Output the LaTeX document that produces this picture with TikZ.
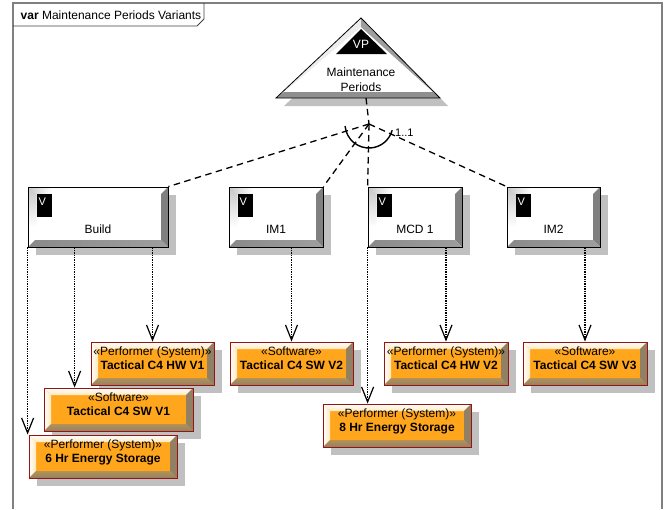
\documentclass[tikz,border=0pt]{standalone}
\usepackage{fontspec}
\setmainfont{Liberation Sans}
\usepackage{tikz}
\usetikzlibrary{arrows.meta,shadows}

\definecolor{elemorange}{RGB}{255,166,28}
\definecolor{elemcream}{RGB}{255,232,190}
\definecolor{elembrown}{RGB}{145,128,100}
\definecolor{elembrownlt}{RGB}{182,146,86}
\definecolor{elemrim}{RGB}{150,20,20}
\definecolor{shadowgray}{RGB}{192,192,192}
\definecolor{framegray}{RGB}{128,128,128}

% corners of the box being bevelled
\newcommand{\bevelcorners}{%
	\coordinate (pnw) at (path picture bounding box.north west);
	\coordinate (pne) at (path picture bounding box.north east);
	\coordinate (psw) at (path picture bounding box.south west);
	\coordinate (pse) at (path picture bounding box.south east);}

\begin{document}
\begin{tikzpicture}[
			x=1pt, y=-1pt,
			font=\fontsize{12}{14.5}\selectfont,
			every node/.style={align=center},
			choice/.style={draw, line width=1.3pt, dash pattern=on 6.5pt off 4.5pt},
			dep/.style={draw, line width=1.3pt, dash pattern=on 1.3pt off 1.1pt,
				-{Straight Barb[length=15pt,width=12pt,line width=1.2pt]}},
			varbox/.style={rectangle, draw=black, line width=0.8pt, fill=white,
				minimum height=60pt, inner sep=0pt, text height=32pt, text depth=0pt,
				drop shadow={shadow xshift=8pt, shadow yshift=-8pt, fill=shadowgray, opacity=1},
				path picture={\bevelcorners
					\shade[left color=black!22, right color=white] (pnw) -- ([xshift=24pt]pnw) -- ([shift={(24pt,-7.4pt)}]pnw) -- ([shift={(8.7pt,-7.4pt)}]pnw) -- cycle;
					\shade[top color=black!22, bottom color=white] (pnw) -- ([shift={(8.7pt,-7.4pt)}]pnw) -- ([shift={(8.7pt,-40pt)}]pnw) -- ([yshift=-40pt]pnw) -- cycle;
					\fill[black!50] (pne) -- (pse) -- ([shift={(-7pt,7pt)}]pse) -- ([shift={(-7pt,-7pt)}]pne) -- cycle;
					\shade[left color=black!46, right color=black!38] (psw) -- (pse) -- ([shift={(-7pt,7pt)}]pse) -- ([shift={(7pt,7pt)}]psw) -- cycle;}},
			vtag/.style={anchor=north west, fill=black, text=white, font=\fontsize{11}{13}\selectfont,
				inner xsep=2pt, inner ysep=0pt, text width=11pt, align=left, text height=11pt, text depth=11.5pt},
			elem/.style={rectangle, draw=elemrim, line width=0.9pt, fill=elemorange,
				minimum height=43pt, inner sep=0pt, text depth=10.7pt,
				drop shadow={shadow xshift=8pt, shadow yshift=-8pt, fill=shadowgray, opacity=1},
				path picture={\bevelcorners
					\shade[top color=white, bottom color=elemcream] (pnw) -- (pne) -- ([shift={(-7pt,-7pt)}]pne) -- ([shift={(7pt,-7pt)}]pnw) -- cycle;
					\shade[left color=white, right color=elemcream] (pnw) -- ([shift={(7pt,-7pt)}]pnw) -- ([shift={(7pt,7pt)}]psw) -- (psw) -- cycle;
					\fill[elembrown] (pne) -- (pse) -- ([shift={(-7pt,7pt)}]pse) -- ([shift={(-7pt,-7pt)}]pne) -- cycle;
					\shade[top color=elembrownlt, bottom color=elembrown] (psw) -- (pse) -- ([shift={(-7pt,7pt)}]pse) -- ([shift={(7pt,7pt)}]psw) -- cycle;}},
			]
			
			\useasboundingbox (0,0) rectangle (667,509);
			
			% diagram frame and its tab
			\draw[framegray, line width=1.5pt] (13,509) -- (13,3) -- (662,3) -- (662,509);
			\draw[black!75, line width=0.8pt] (13,26) -- (197,26) -- (204,19) -- (204,3);
			\node[anchor=base west, inner sep=0pt] (title) at (20.5,19.3) {\textbf{var} Maintenance Periods Variants};
			
			% variation point
			\fill[shadowgray] (369,26) -- (448,106) -- (284,106) -- cycle;
			\fill[white] (361,18) -- (440,98) -- (276,98) -- cycle;
			\fill[black!7] (361,18) -- (276,98) -- (284,92) -- (361,27) -- cycle;
			\fill[black!38] (361,18) -- (440,98) -- (433,92) -- (361,27) -- cycle;
			\fill[black!44] (276,98) -- (440,98) -- (433,92) -- (284,92) -- cycle;
			\draw[line width=0.8pt] (361,18) -- (440,98) -- (276,98) -- cycle;
			\fill[black] (361,29) -- (387,54) -- (336,54) -- cycle;
			\node[text=white, inner sep=0pt] (vptag) at (361,44.2) {VP};
			\node (vp) at (361,79.6) {Maintenance\\Periods};
			\coordinate (vpbase) at (366,98);
			\coordinate (hub) at (369,124);
			
			% variants
			\node[varbox, minimum width=140pt] (build) at (98,217) {Build};
			\node[varbox, minimum width=94pt] (im1) at (276,217) {IM1};
			\node[varbox, minimum width=94pt] (mcd) at (415,217) {MCD 1};
			\node[varbox, minimum width=93pt] (im2) at (553.5,217) {IM2};
			\foreach \v in {build,im1,mcd,im2}
				\node[vtag] (\v-tag) at ([shift={(8.7pt,-7.4pt)}]\v.north west) {V};
			
			% elements
			\node[elem, minimum width=123pt] (hwA) at (152.5,363.5) {«Performer (System)»\\\textbf{Tactical C4 HW V1}};
			\node[elem, minimum width=149pt] (swA) at (118.5,409.5) {«Software»\\\textbf{Tactical C4 SW V1}};
			\node[elem, minimum width=148pt] (esA) at (103,456.5) {«Performer (System)»\\\textbf{6 Hr Energy Storage}};
			\node[elem, minimum width=123pt] (swB) at (291.5,363.5) {«Software»\\\textbf{Tactical C4 SW V2}};
			\node[elem, minimum width=124pt] (hwB) at (446,363.5) {«Performer (System)»\\\textbf{Tactical C4 HW V2}};
			\node[elem, minimum width=124pt] (swC) at (585,363.5) {«Software»\\\textbf{Tactical C4 SW V3}};
			\node[elem, minimum width=148pt] (esB) at (397,425.5) {«Performer (System)»\\\textbf{8 Hr Energy Storage}};
			
			% choice 1..1
			\draw[choice] (vpbase) -- (hub);
			\draw[choice] (hub) -- (build.north east);
			\draw[choice] (hub) -- (im1.north east);
			\draw[choice] (hub) -- (mcd.north west);
			\draw[choice] (hub) -- (im2.north west);
			\draw[line width=1.4pt] (hub) ++(175:24) arc[start angle=175, end angle=15, radius=24];
			\node[anchor=base west, inner sep=0pt, font=\fontsize{11}{13}\selectfont] (mult) at (395,136.7) {1..1};
			
			% dependencies
			\coordinate (buildmid) at ([xshift=47pt]build.south west);
			\draw[dep] (build.south -| hwA.north) -- (hwA.north);
			\draw[dep] (buildmid) -- (buildmid |- swA.north);
			\draw[dep] (build.south west) -- (build.south west |- esA.north);
			\draw[dep] (im1.south -| swB.north) -- (swB.north);
			\draw[dep] (mcd.south west) -- (mcd.south west |- esB.north);
			\draw[dep] (mcd.south -| hwB.north) -- (hwB.north);
			\draw[dep] (im2.south -| swC.north) -- (swC.north);
			
		\end{tikzpicture}
\end{document}
